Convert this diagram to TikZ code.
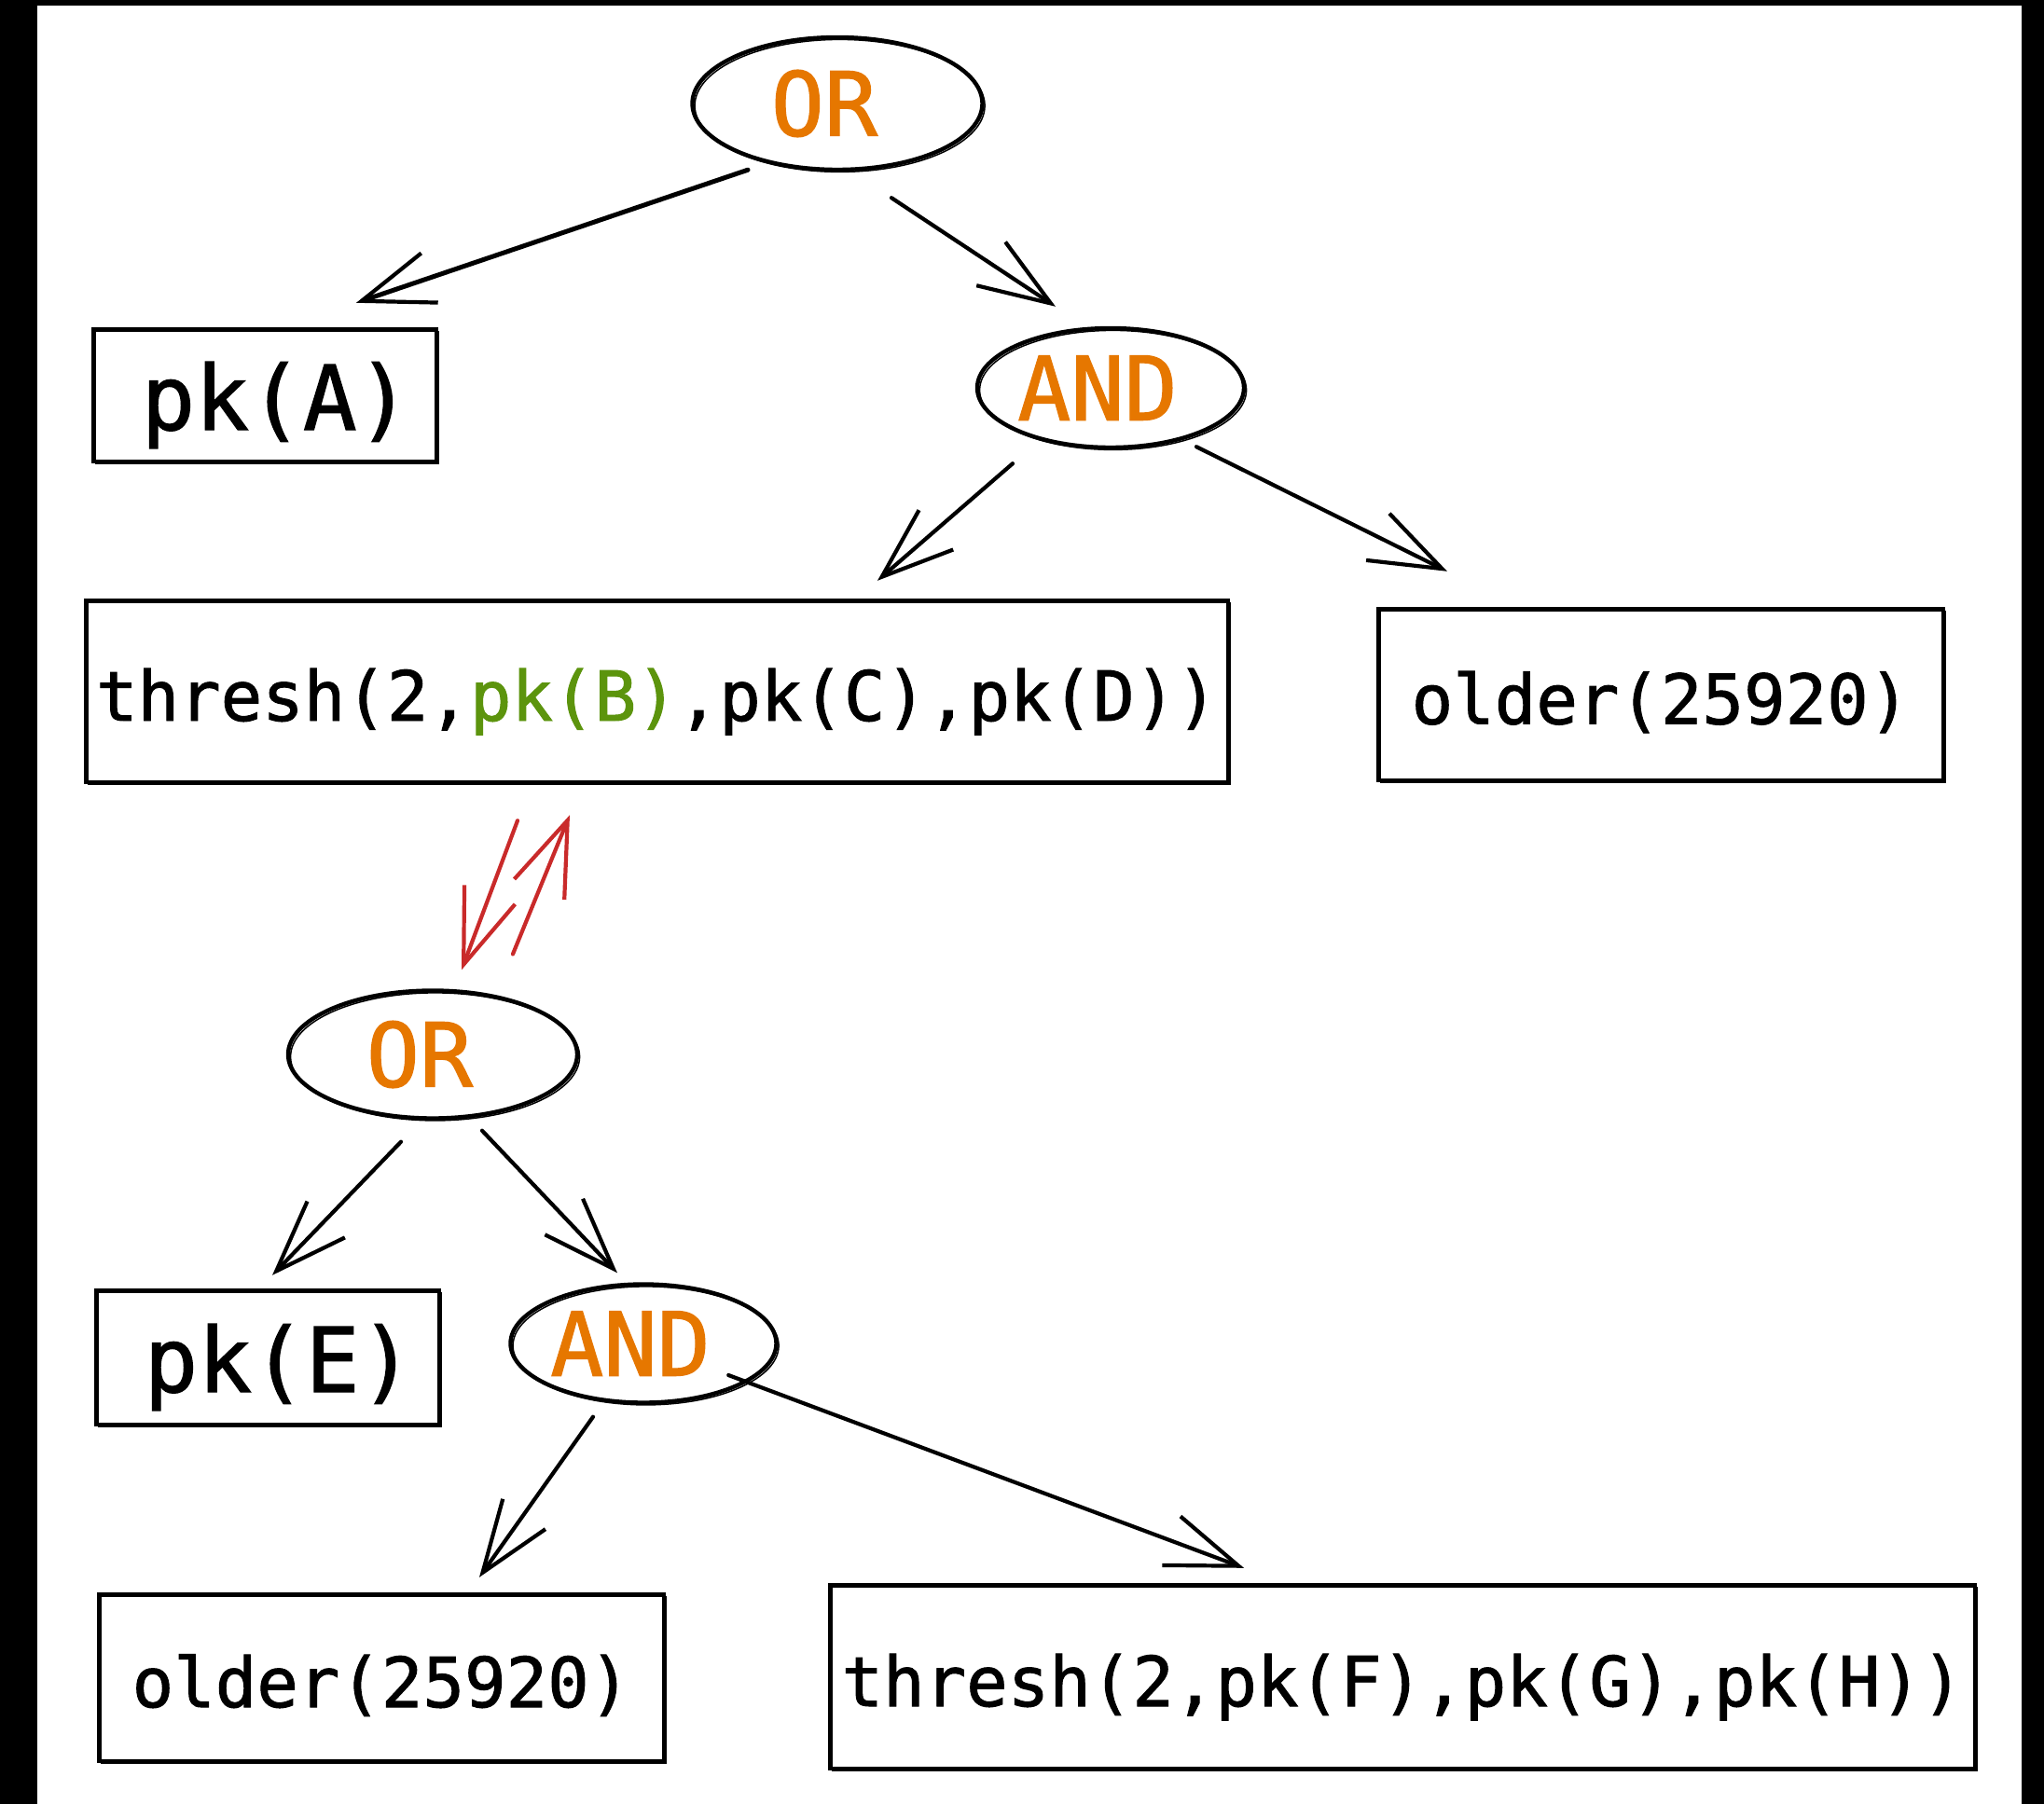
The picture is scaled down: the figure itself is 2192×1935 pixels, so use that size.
\documentclass[tikz,border=0pt]{standalone}
\usepackage{fontspec}
\newfontfamily\codefont[FakeBold=1.3]{DejaVu Sans Mono}
\usetikzlibrary{shapes.geometric,arrows.meta}
\definecolor{opcolor}{HTML}{E67700}
\definecolor{keygreen}{HTML}{5C940D}
\definecolor{swapred}{HTML}{C92A2A}

\begin{document}
\begin{tikzpicture}[x=1pt,y=-1pt,
  sketch/.style={postaction={draw, line width=1.5pt,
      transform canvas={shift={(2.6pt,-2.4pt)}}}},
  leaf/.style={draw, line width=4.4pt, rectangle, inner sep=0pt, sketch},
  gate/.style={draw, line width=4.4pt, ellipse, inner sep=0pt, sketch,
      text=opcolor, font=\codefont\fontsize{95}{100}\selectfont,
      execute at begin node={\hspace*{-28pt}}},
  bigtext/.style={font=\codefont\fontsize{96}{100}\selectfont,
      text height=74pt, text depth=0pt,
      execute at begin node={\hspace*{24pt}}},
  midtext/.style={font=\codefont\fontsize{74}{80}\selectfont,
      text height=63pt, text depth=0pt},
  link/.style={line width=4.2pt, line cap=round,
      -{Straight Barb[length=77pt,width=56pt,line width=4.2pt]}},
  swap/.style={draw=swapred, line width=4.2pt, line cap=round,
      -{Straight Barb[length=80pt,width=58pt,line width=4.2pt]}},
]
% frame of the canvas
\fill[black] (0,0) rectangle (2192,1935);
\fill[white] (40,6) rectangle (2168,1935);
\useasboundingbox (0,0) rectangle (2192,1935);

% upper tree
\node[gate, minimum width=311pt, minimum height=142pt] (or1) at (898,111) {OR};
\node[gate, minimum width=286pt, minimum height=128pt] (and1) at (1191,416) {AND};
\node[leaf, bigtext, minimum width=368pt, minimum height=142pt] (pkA) at (284,424) {pk(A)};
\node[leaf, midtext, minimum width=1225pt, minimum height=195pt] (thr1) at (704.5,741.5)
  {thresh(2,\textcolor{keygreen}{pk(B)},pk(C),pk(D))};
\node[leaf, midtext, minimum width=606pt, minimum height=184pt] (old1) at (1781,745) {older(25920)};

% lower tree
\node[gate, minimum width=310pt, minimum height=137pt] (or2) at (464,1131) {OR};
\node[gate, minimum width=285pt, minimum height=127pt] (and2) at (690,1441) {AND};
\node[leaf, bigtext, minimum width=368pt, minimum height=144pt] (pkE) at (287,1456) {pk(E)};
\node[leaf, midtext, minimum width=606pt, minimum height=179pt] (old2) at (409,1799.5) {older(25920)};
\node[leaf, midtext, minimum width=1228pt, minimum height=197pt] (thr2) at (1504,1798.5)
  {thresh(2,pk(F),pk(G),pk(H))};

% connectors of the upper tree
\draw[link, line width=5pt] ([shift={(-96,-2)}]or1.south) -- ([shift={(98,-26)}]pkA.north);
\draw[link] ([shift={(58,28)}]or1.south) -- ([shift={(-59,-21)}]and1.north);
\draw[link] ([shift={(-105,15)}]and1.south) -- ([shift={(236.5,-19)}]thr1.north);
\draw[link] ([shift={(92,-3)}]and1.south) -- ([shift={(-229,-38)}]old1.north);

% substitution of pk(B) by the lower tree
\draw[swap] ([shift={(-149.5,39)}]thr1.south) -- ([shift={(31,-20)}]or2.north);
\draw[swap] ([shift={(86,-37)}]or2.north) -- ([shift={(-93.5,33)}]thr1.south);

% connectors of the lower tree
\draw[link] ([shift={(-34,23)}]or2.south) -- ([shift={(5,-14)}]pkE.north);
\draw[link] ([shift={(53,11)}]or2.south) -- ([shift={(-28,-10)}]and2.north);
\draw[link] ([shift={(-54,13)}]and2.south) -- ([shift={(105,-16)}]old2.north);
\draw[link] ([shift={(-53.5,34)}]and2.east) -- ([shift={(-170,-16)}]thr2.north);
\end{tikzpicture}
\end{document}
